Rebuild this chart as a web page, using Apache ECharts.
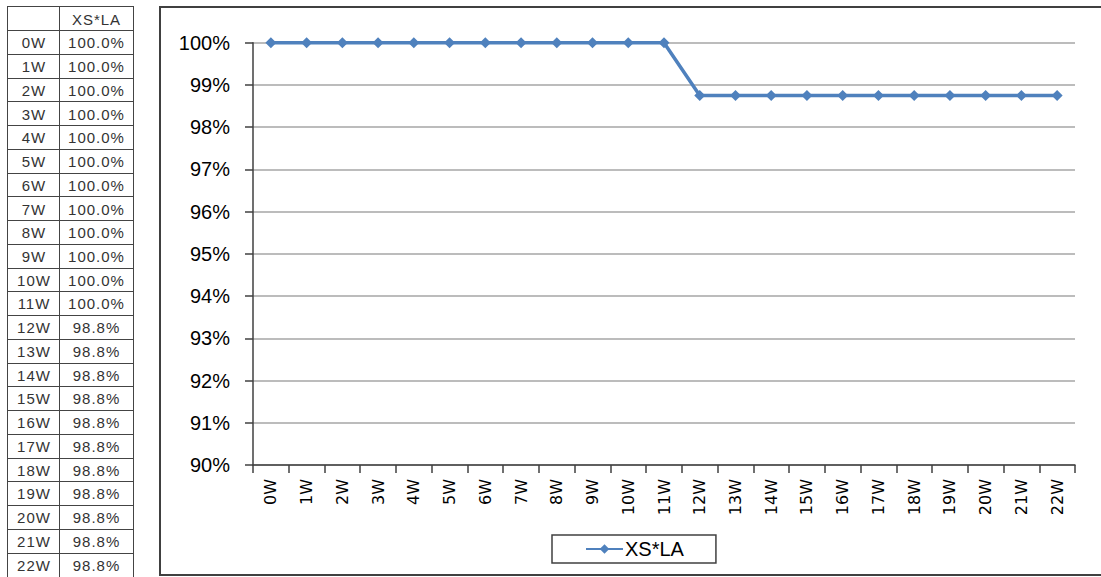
<!DOCTYPE html>
<html>
<head>
<meta charset="utf-8">
<script src="https://cdn.jsdelivr.net/npm/echarts@6/dist/echarts.min.js"></script>
<style>
  html, body { margin:0; padding:0; background:#fff; width:1101px; height:577px; overflow:hidden; }
  #frame { position:absolute; left:159px; top:6px; width:1000px; height:566px; border:2px solid #404040; box-sizing:content-box; }
  #chart { position:absolute; left:0; top:0; width:1101px; height:577px; }
  #table { position:absolute; left:0; top:0; width:140px; height:577px; }
  .cell { position:absolute; box-sizing:border-box; border:1.5px solid #444; display:flex; align-items:center; justify-content:center;
          font-family:"Liberation Sans", Arial, sans-serif; font-size:15px; letter-spacing:1px; color:#333; background:#fff; }
</style>
</head>
<body>
<div id="frame"></div>
<div id="chart"></div>
<div id="table"></div>
<script>
// ---- data ----
const seriesName = 'XS*LA';
const categories = ['0W','1W','2W','3W','4W','5W','6W','7W','8W','9W','10W','11W',
                    '12W','13W','14W','15W','16W','17W','18W','19W','20W','21W','22W'];
const xslaValues = [100,100,100,100,100,100,100,100,100,100,100,100,
                    98.75,98.75,98.75,98.75,98.75,98.75,98.75,98.75,98.75,98.75,98.75];
const yMin = 90, yMax = 100, yStep = 1;

// ---- table (left side) ----
(function buildTable(){
  const t = document.getElementById('table');
  const x0 = 8, x1 = 60, x2 = 133;
  const top0 = 7, headerBottom = 31;
  const rowH = (577 - headerBottom) / categories.length;
  function cell(left, top, w, h, text){
    const d = document.createElement('div');
    d.className = 'cell';
    d.style.left = (left - 0.75) + 'px';
    d.style.top = (top - 0.75) + 'px';
    d.style.width = (w + 1.5) + 'px';
    d.style.height = (h + 1.5) + 'px';
    d.textContent = text;
    t.appendChild(d);
  }
  cell(x0, top0, x1 - x0, headerBottom - top0, '');
  cell(x1, top0, x2 - x1, headerBottom - top0, seriesName);
  categories.forEach((c, i) => {
    const top = headerBottom + i * rowH;
    cell(x0, top, x1 - x0, rowH, c);
    cell(x1, top, x2 - x1, rowH, xslaValues[i].toFixed(1) + '%');
  });
})();

// ---- chart ----
const chart = echarts.init(document.getElementById('chart'), null, { renderer: 'svg' });
chart.setOption({
  backgroundColor: 'transparent',
  animation: false,
  grid: { left: 253, right: 26, top: 42.7, bottom: 112, containLabel: false },
  legend: {
    data: [seriesName],
    left: 552, top: 535,
    padding: [4, 32, 4, 33],
    borderColor: '#404040', borderWidth: 1.5,
    itemWidth: 37, itemHeight: 12, itemGap: 5,
    textStyle: { fontFamily: 'Liberation Sans, Arial, sans-serif', fontSize: 20, color: '#000', padding: [0,0,0,-3] }
  },
  xAxis: {
    type: 'category',
    data: categories,
    boundaryGap: true,
    axisLine: { lineStyle: { color: '#404040', width: 1.5 } },
    axisTick: { show: true, length: 8, lineStyle: { color: '#404040', width: 1.5 } },
    axisLabel: { rotate: 90, margin: 14, interval: 0, fontFamily: 'DejaVu Sans, sans-serif', fontSize: 16, color: '#000' },
    splitLine: { show: false }
  },
  yAxis: {
    type: 'value',
    min: yMin, max: yMax, interval: yStep,
    axisLine: { show: true, lineStyle: { color: '#404040', width: 1.5 } },
    axisTick: { show: true, length: 8, lineStyle: { color: '#404040', width: 1.5 } },
    axisLabel: { margin: 23, formatter: '{value}%', fontFamily: 'Liberation Sans, Arial, sans-serif', fontSize: 20, color: '#000' },
    splitLine: { show: true, lineStyle: { color: '#a6a6a6', width: 1.5 } }
  },
  series: [{
    name: seriesName,
    type: 'line',
    data: xslaValues,
    symbol: 'diamond',
    symbolSize: 11,
    lineStyle: { color: '#4f81bd', width: 3.5 },
    itemStyle: { color: '#4f81bd' }
  }]
});
</script>
</body>
</html>
